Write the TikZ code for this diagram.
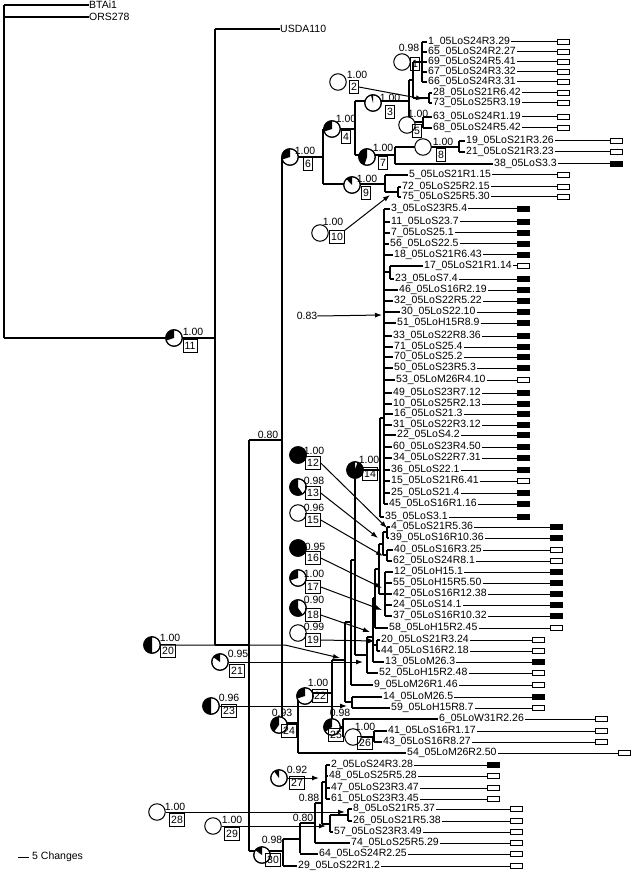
\documentclass[tikz,border=0pt]{standalone}
\usepackage{fontspec}
\setmainfont{Liberation Sans}
\usetikzlibrary{arrows.meta}
\newcommand\fs{\fontsize{10.5}{12}\selectfont}
\tikzset{
 tree/.style={line width=1.1pt},
 leaf/.style={anchor=west, inner sep=0pt, font=\fs},
 tipbox/.style={draw, line width=0.8pt, minimum width=12pt, minimum height=5pt, inner sep=0pt, anchor=west},
 numbox/.style={draw, line width=0.8pt, inner sep=1.5pt, minimum height=12.5pt, font=\fs},
 plab/.style={inner sep=0pt, font=\fs},
 arr/.style={line width=1pt, -{Latex[length=7pt,width=5pt]}},
}
\newcommand\pie[9]{%
  \node[circle, draw, line width=1pt, fill=white, minimum size=16.5pt, inner sep=0pt] (C#1) at (#2,-#3) {};
  \ifdim#4pt>0pt \fill (#2,-#3) -- ++(90:8.25pt) arc[start angle=90, delta angle=360*#4, radius=8.25pt] -- cycle;
  \draw[line width=1pt] (#2,-#3) circle[radius=8.25pt];\fi
  \node[plab] (V#1) at (#5,-#6) {#7};
  \node[numbox] (N#1) at (#8,-#9) {#1};
}
\begin{document}
\begin{tikzpicture}[x=1pt,y=1pt]
\fill[white] (0,0) rectangle (634,-874);
\useasboundingbox (0,0) rectangle (634,-874);

% outgroups
\node[leaf] (BT) at (89,-5) {BTAi1};
\node[leaf] (OR) at (89,-17) {ORS278};
\node[leaf] (US) at (280,-29) {USDA110};
\draw[tree] (4,-5) -- (4,-338);
\draw[tree] (4,-5) -- (BT.west);
\draw[tree] (4,-17) -- (OR.west);
\draw[tree] (4,-338) -- (215,-338);
\draw[tree] (215,-29) -- (215,-645);
\draw[tree] (215,-29) -- (US.west);
\draw[tree] (215,-645) -- (249,-645);
\draw[tree] (249,-440) -- (249,-851);
\draw[tree] (249,-440) -- (282,-440);
\draw[tree] (249,-851) -- (283,-851);
\draw[tree] (282,-157) -- (282,-723);
% upper clade
\draw[tree] (282,-157) -- (323,-157);
\draw[tree] (323,-129) -- (323,-184);
\draw[tree] (323,-129) -- (355,-129);
\draw[tree] (355,-101) -- (355,-155);
\draw[tree] (355,-101) -- (409,-101);
\draw[tree] (409,-80) -- (409,-122);
\draw[tree] (409,-80) -- (413,-80);
\draw[tree] (413,-62) -- (413,-98);
\draw[tree] (413,-62) -- (422,-62);
\draw[tree] (422,-42) -- (422,-82);
\draw[tree] (413,-98) -- (429,-98);
\draw[tree] (429,-93) -- (429,-103);
\draw[tree] (409,-122) -- (423,-122);
\draw[tree] (423,-117) -- (423,-128);
\draw[tree] (355,-155) -- (395,-155);
\draw[tree] (395,-147) -- (395,-164);
\draw[tree] (395,-147) -- (459,-147);
\draw[tree] (459,-141) -- (459,-152);
\draw[tree] (323,-184) -- (385,-184);
\draw[tree] (385,-175) -- (385,-192);
\draw[tree] (385,-192) -- (398,-192);
\draw[tree] (398,-187) -- (398,-197);
% cluster C
\draw[tree] (384,-209) -- (384,-504);
\draw[tree] (380,-418) -- (380,-517);
\draw[tree] (380,-418) -- (384,-418);
\draw[tree] (384,-272) -- (390,-272);
\draw[tree] (390,-266) -- (390,-279);
\draw[tree] (355,-470) -- (380,-470);
\draw[tree] (355,-470) -- (355,-655);
\draw[tree] (351,-560) -- (355,-560);
\draw[tree] (351,-560) -- (351,-685);
\draw[tree] (345,-622) -- (351,-622);
\draw[tree] (345,-622) -- (345,-702);
\draw[tree] (332,-660) -- (345,-660);
\draw[tree] (345,-702) -- (352,-702);
\draw[tree] (352,-697) -- (352,-708);
\draw[tree] (332,-660) -- (332,-727);
\draw[tree] (298,-693) -- (332,-693);
\draw[tree] (298,-693) -- (298,-753);
\draw[tree] (282,-723) -- (298,-723);
\draw[tree] (332,-727) -- (343,-727);
\draw[tree] (343,-719) -- (343,-737);
\draw[tree] (343,-737) -- (374,-737);
\draw[tree] (374,-731) -- (374,-742);
\draw[tree] (355,-655) -- (367,-655);
\draw[tree] (367,-637) -- (367,-673);
\draw[tree] (367,-637) -- (373,-637);
\draw[tree] (373,-598) -- (373,-662);
\draw[tree] (373,-645) -- (377,-645);
\draw[tree] (377,-640) -- (377,-651);
\draw[tree] (373,-598) -- (375,-598);
\draw[tree] (375,-569) -- (375,-628);
\draw[tree] (375,-569) -- (379,-569);
\draw[tree] (379,-544) -- (379,-594);
\draw[tree] (379,-544) -- (383,-544);
\draw[tree] (383,-532) -- (383,-555);
\draw[tree] (383,-532) -- (387,-532);
\draw[tree] (387,-527) -- (387,-538);
\draw[tree] (383,-555) -- (387,-555);
\draw[tree] (387,-550) -- (387,-561);
\draw[tree] (379,-594) -- (385,-594);
\draw[tree] (385,-572) -- (385,-616);
% bottom clade
\draw[tree] (283,-839) -- (283,-866);
\draw[tree] (283,-839) -- (300,-839);
\draw[tree] (300,-823) -- (300,-853);
\draw[tree] (300,-823) -- (315,-823);
\draw[tree] (315,-803) -- (315,-843);
\draw[tree] (315,-803) -- (322,-803);
\draw[tree] (322,-782) -- (322,-824);
\draw[tree] (322,-782) -- (326,-782);
\draw[tree] (326,-765) -- (326,-799);
\draw[tree] (322,-824) -- (330,-824);
\draw[tree] (330,-815) -- (330,-832);
\draw[tree] (330,-815) -- (348,-815);
\draw[tree] (348,-809) -- (348,-821);

% leaves
\foreach \y/\t/\lx/\bx/\boxx/\f in {
42/1\_05LoS24R3.29/427/422/557/white,
52/65\_05LoS24R2.27/427/422/557/white,
62/69\_05LoS24R5.41/427/422/557/white,
72/67\_05LoS24R3.32/427/422/557/white,
82/66\_05LoS24R3.31/427/422/557/white,
93/28\_05LoS21R6.42/432/429/557/white,
103/73\_05LoS25R3.19/432/429/557/white,
117/63\_05LoS24R1.19/432/423/557/white,
128/68\_05LoS24R5.42/432/423/557/white,
141/19\_05LoS21R3.26/465/459/610/white,
152/21\_05LoS21R3.23/465/459/610/white,
164/38\_05LoS3.3/493/395/610/black,
175/5\_05LoS21R1.15/408/385/557/white,
187/72\_05LoS25R2.15/401/398/557/white,
197/75\_05LoS25R5.30/401/398/557/white,
209/3\_05LoS23R5.4/390/384/517/black,
222/11\_05LoS23.7/390/384/517/black,
233/7\_05LoS25.1/390/384/517/black,
244/56\_05LoS22.5/389/384/517/black,
255/18\_05LoS21R6.43/393/384/517/black,
266/17\_05LoS21R1.14/423/390/517/white,
279/23\_05LoS7.4/394/390/517/black,
290/46\_05LoS16R2.19/398/384/517/black,
301/32\_05LoS22R5.22/393/384/517/black,
312/30\_05LoS22.10/400/384/517/black,
323/51\_05LoH15R8.9/396/384/517/black,
336/33\_05LoS22R8.36/392/384/517/black,
347/71\_05LoS25.4/393/384/517/black,
357/70\_05LoS25.2/393/384/517/black,
368/50\_05LoS23R5.3/393/384/517/black,
380/53\_05LoM26R4.10/395/384/517/white,
393/49\_05LoS23R7.12/392/384/517/black,
404/10\_05LoS25R2.13/392/384/517/black,
414/16\_05LoS21.3/393/384/517/black,
425/31\_05LoS22R3.12/392/384/517/black,
435/22\_05LoS4.2/396/384/517/black,
447/60\_05LoS23R4.50/392/384/517/black,
458/34\_05LoS22R7.31/392/384/517/black,
470/36\_05LoS22.1/390/384/517/black,
481/15\_05LoS21R6.41/390/384/517/white,
493/25\_05LoS21.4/390/384/517/black,
504/45\_05LoS16R1.16/388/384/517/black,
517/35\_05LoS3.1/384/380/517/black,
527/4\_05LoS21R5.36/390/387/550/black,
538/39\_05LoS16R10.36/389/387/550/black,
550/40\_05LoS16R3.25/393/387/550/white,
561/62\_05LoS24R8.1/392/387/550/white,
572/12\_05LoH15.1/393/385/550/black,
583/55\_05LoH15R5.50/392/385/550/black,
594/42\_05LoS16R12.38/392/385/550/black,
605/24\_05LoS14.1/392/385/550/black,
616/37\_05LoS16R10.32/392/385/550/black,
628/58\_05LoH15R2.45/388/375/550/white,
640/20\_05LoS21R3.24/380/377/532/white,
651/44\_05LoS16R2.18/380/377/532/white,
662/13\_05LoM26.3/384/373/532/black,
673/52\_05LoH15R2.48/378/367/532/white,
685/9\_05LoM26R1.46/373/351/532/white,
697/14\_05LoM26.5/382/352/532/black,
708/59\_05LoH15R8.7/390/352/532/white,
719/6\_05LoW31R2.26/438/343/595/white,
731/41\_05LoS16R1.17/387/374/595/white,
742/43\_05LoS16R8.27/382/374/595/white,
753/54\_05LoM26R2.50/406/298/618/white,
765/2\_05LoS24R3.28/330/326/487/black,
776/48\_05LoS25R5.28/328/326/487/white,
788/47\_05LoS23R3.47/330/326/487/white,
799/61\_05LoS23R3.45/330/326/487/white,
809/8\_05LoS21R5.37/352/348/510/white,
821/26\_05LoS21R5.38/352/348/510/white,
832/57\_05LoS23R3.49/333/330/510/white,
843/74\_05LoS25R5.29/350/315/510/white,
854/64\_05LoS24R2.25/318/300/510/white,
866/29\_05LoS22R1.2/297/283/510/white}{
  \draw[tree] (\bx,-\y) -- (\lx,-\y);
  \node[leaf] (L\y) at (\lx+1,-\y) {\t};
  \node[tipbox, fill=\f] (B\y) at (\boxx,-\y) {};
  \draw[line width=1pt] (L\y.east) ++(1pt,0) -- (B\y.west);
}

% plain support labels
\node[plab] (S080) at (268,-435) {0.80};
\node[plab] (S083) at (307,-316) {0.83};
\node[plab] (S088) at (309,-798) {0.88};
\node[plab] (S080b) at (303,-818) {0.80};
\coordinate (T083) at (382,-315);
\draw[arr] (S083.east) -- (T083);

% pies: id, cx, cy, frac, lx, ly, text, bx, by
\pie{1}{402}{62}{0}{409}{48}{0.98}{415}{64}
\pie{2}{338}{82}{0}{357}{75}{1.00}{354}{87}
\pie{3}{373}{103}{0.04}{390}{98}{1.00}{390}{112}
\pie{4}{332}{129}{0.30}{346}{119}{1.00}{346}{137}
\pie{5}{407}{125}{0}{418}{114}{1.00}{417}{131}
\pie{6}{290}{157}{0.30}{305}{151}{1.00}{308}{164}
\pie{7}{367}{157}{0.45}{383}{148}{1.00}{383}{163}
\pie{8}{423}{147}{0}{443}{142}{1.00}{441}{155}
\pie{9}{352}{185}{0.12}{367}{179}{1.00}{366}{193}
\pie{10}{320}{233}{0}{333}{222}{1.00}{337}{237}
\pie{11}{174}{338}{0.30}{193}{332}{1.00}{190}{346}
\pie{12}{298}{455}{1}{314}{451}{1.00}{313}{463}
\pie{13}{298}{487}{0.6}{314}{481}{0.98}{313}{493}
\pie{14}{355}{470}{0.95}{369}{460}{1.00}{370}{474}
\pie{15}{298}{513}{0}{314}{508}{0.96}{313}{520}
\pie{16}{298}{548}{1}{315}{547}{0.95}{313}{558}
\pie{17}{298}{578}{0.3}{314}{574}{1.00}{313}{587}
\pie{18}{298}{608}{0.6}{314}{600}{0.90}{313}{615}
\pie{19}{298}{633}{0}{314}{627}{0.99}{313}{640}
\pie{20}{152}{645}{0.5}{170}{638}{1.00}{168}{651}
\pie{21}{220}{662}{0.15}{238}{654}{0.95}{237}{671}
\pie{22}{305}{696}{0.3}{318}{683}{1.00}{320}{696}
\pie{23}{211}{706}{0.5}{229}{698}{0.96}{229}{711}
\pie{24}{279}{725}{0.4}{282}{713}{0.93}{289}{731}
\pie{25}{332}{727}{0.35}{340}{713}{0.98}{336}{735}
\pie{26}{353}{737}{0}{365}{727}{1.00}{365}{743}
\pie{27}{279}{778}{0.1}{297}{770}{0.92}{297}{783}
\pie{28}{157}{812}{0}{175}{807}{1.00}{177}{820}
\pie{29}{213}{826}{0}{232}{820}{1.00}{232}{834}
\pie{30}{262}{855}{0.15}{272}{840}{0.98}{273}{860}

% arrows
\draw[arr] (N2.east) -- (423,-99);
\draw[arr] (N10.north east) -- (390,-195);
\draw[arr] (N12.east) -- (387,-528);
\draw[arr] (N13.east) -- (378,-538);
\draw[arr] (N15.east) -- (383,-556);
\draw[arr] (N16.east) -- (382,-588);
\draw[arr] (N17.east) -- (382,-610);
\draw[arr] (N18.east) -- (370,-632);
\draw[arr] (N19.east) -- (375,-641);
\draw[arr] (C20.east) -- (285,-645) -- (340,-658);
\draw[arr] (C21.east) -- (363,-662);
\draw[arr] (C23.east) -- (347,-706);
\draw[arr] (C27.east) -- (319,-778);
\draw[arr] (C28.east) -- (345,-812);
\draw[arr] (C29.east) -- (326,-826);

% scale bar
\draw[line width=1pt] (18,-857) -- (29,-857);
\node[leaf] (SB) at (32,-857) {5 Changes};
\end{tikzpicture}
\end{document}
